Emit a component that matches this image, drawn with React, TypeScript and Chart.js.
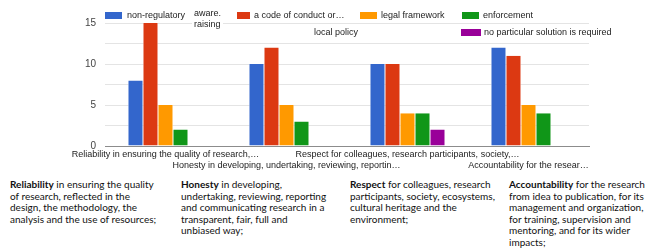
import React, { useEffect, useRef } from "react";
import { Chart, registerables } from "chart.js";

Chart.register(...registerables);

const categories = [
  "Reliability in ensuring the quality of research,…",
  "Honesty in developing, undertaking, reviewing, reportin…",
  "Respect for colleagues, research participants, society,…",
  "Accountability for the resear…",
];
const seriesNames = [
  "non-regulatory",
  "a code of conduct or…",
  "legal framework",
  "enforcement",
  "no particular solution is required",
];
const nonRegulatory = [8, 10, 10, 12];
const codeOfConduct = [15, 12, 10, 11];
const legalFramework = [5, 5, 4, 5];
const enforcement = [2, 3, 4, 4];
const noSolution = [0, 0, 2, 0];
const seriesValues = [nonRegulatory, codeOfConduct, legalFramework, enforcement, noSolution];
const seriesColors = ["#3366cc", "#dc3912", "#ff9900", "#109618", "#990099"];
const extraLegendTexts = [["aware.", "raising"], ["local policy"]];

const yMin = 0;
const yMax = 15;
const yStep = 2.5;
const yLabelEvery = 5;

const FONT = "'Liberation Sans', Arial, sans-serif";
const TEXT_FONT = "Lato, 'Open Sans', sans-serif";

const descriptions: [string, string[]][] = [
  ["Reliability", [" in ensuring the quality", "of research, reflected in the", "design, the methodology, the", "analysis and the use of resources;"]],
  ["Honesty", [" in developing,", "undertaking, reviewing, reporting", "and communicating research in a", "transparent, fair, full and", "unbiased way;"]],
  ["Respect", [" for colleagues, research", "participants, society, ecosystems,", "cultural heritage and the", "environment;"]],
  ["Accountability", [" for the research", "from idea to publication, for its", "management and organization,", "for training, supervision and", "mentoring, and for its wider", "impacts;"]],
];

function Swatch({ left, top, width, color }: { left: number; top: number; width: number; color: string }) {
  return (
    <div style={{ position: "absolute", left, top, width, height: 7, background: color }} />
  );
}

function Label({ left, top, text, bg }: { left: number; top: number; text: string; bg?: boolean }) {
  return (
    <div
      style={{
        position: "absolute",
        left,
        top,
        font: `9px ${FONT}`,
        lineHeight: "11px",
        color: "#222",
        whiteSpace: "nowrap",
        background: bg ? "#fff" : "transparent",
      }}
    >
      {text}
    </div>
  );
}

export default function App() {
  const canvasRef = useRef<HTMLCanvasElement | null>(null);

  useEffect(() => {
    if (!canvasRef.current) return;
    const chart = new Chart(canvasRef.current, {
      type: "bar",
      data: {
        labels: categories.map((c, i) => (i % 2 === 0 ? [c] : ["", c])),
        datasets: seriesNames.map((name, i) => ({
          label: name,
          data: seriesValues[i],
          backgroundColor: seriesColors[i],
          borderColor: "#ffffff",
          borderWidth: { left: 0.5, right: 0.5, top: 0, bottom: 0 },
          borderSkipped: false,
          categoryPercentage: 0.62,
          barPercentage: 1,
        })),
      },
      options: {
        animation: false,
        responsive: false,
        maintainAspectRatio: false,
        layout: { padding: { left: 0, right: 57, top: 23, bottom: 0 } },
        plugins: { legend: { display: false }, tooltip: { enabled: false } },
        scales: {
          x: {
            grid: { display: false, drawTicks: false },
            border: { display: true, color: "#8c8c8c", width: 1 },
            ticks: {
              autoSkip: false,
              maxRotation: 0,
              minRotation: 0,
              padding: 3,
              color: "#222",
              font: { family: FONT, size: 9 },
            },
            afterFit: (s: any) => {
              s.height = 29;
            },
          },
          y: {
            min: yMin,
            max: yMax,
            border: { display: false },
            grid: { color: "#e4e4e4", drawTicks: false },
            ticks: {
              stepSize: yStep,
              padding: 9,
              color: "#444",
              font: { family: FONT, size: 10 },
              callback: (v: any) => (Number(v) % yLabelEvery === 0 ? String(v) : ""),
            },
            afterFit: (s: any) => {
              s.width = 105;
            },
          },
        },
      } as any,
    });
    return () => chart.destroy();
  }, []);

  const colLefts = [10, 181, 350, 509];

  return (
    <div style={{ position: "fixed", left: 0, top: 0, width: 646, height: 252, background: "#fff", overflow: "hidden" }}>
      <canvas ref={canvasRef} width={646} height={175} style={{ position: "absolute", left: 0, top: 0, display: "block" }} />
      {/* legend row 1 */}
      <Swatch left={105} top={12} width={17} color={seriesColors[0]} />
      <Label left={127} top={10} text={seriesNames[0]} />
      <div style={{ position: "absolute", left: 192, top: 8, padding: "0 2px", background: "#fff", font: `9px ${FONT}`, lineHeight: "11px", color: "#222" }}>
        {extraLegendTexts[0][0]}
        <br />
        {extraLegendTexts[0][1]}
      </div>
      <Swatch left={237} top={12} width={13} color={seriesColors[1]} />
      <Label left={254} top={10} text={seriesNames[1]} />
      <Swatch left={360} top={12} width={17} color={seriesColors[2]} />
      <Label left={381} top={10} text={seriesNames[2]} />
      <Swatch left={462} top={12} width={17} color={seriesColors[3]} />
      <Label left={483} top={10} text={seriesNames[3]} />
      {/* legend row 2 */}
      <Label left={314} top={27} text={extraLegendTexts[1][0]} />
      <div style={{ position: "absolute", left: 459, top: 26, width: 178, height: 13, background: "#fff" }} />
      <Swatch left={461} top={29} width={20} color={seriesColors[4]} />
      <Label left={484} top={27} text={seriesNames[4]} />
      {/* descriptions */}
      {descriptions.map(([bold, lines], i) => (
        <div
          key={i}
          style={{
            position: "absolute",
            left: colLefts[i],
            top: 179,
            font: `10px ${TEXT_FONT}`,
            lineHeight: "11.5px",
            color: "#111",
            whiteSpace: "nowrap",
          }}
        >
          <b>{bold}</b>
          {lines[0]}
          {lines.slice(1).map((l, j) => (
            <React.Fragment key={j}>
              <br />
              {l}
            </React.Fragment>
          ))}
        </div>
      ))}
    </div>
  );
}
